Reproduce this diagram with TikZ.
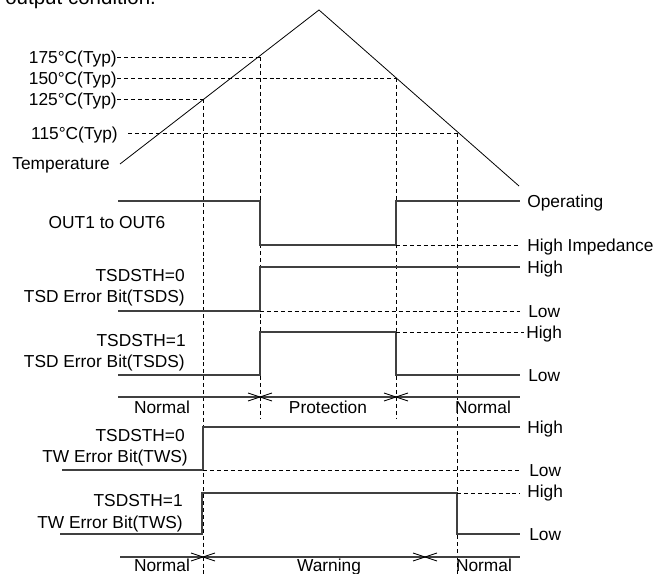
\documentclass[tikz,border=0pt]{standalone}
\usepackage{fontspec}
\setmainfont{Liberation Sans}
\begin{document}
\begin{tikzpicture}[x=0.75pt,y=-0.75pt,
  lbl/.style={font=\fontsize{13}{15}\selectfont, inner sep=0pt, text height=9.3pt, text depth=0pt},
  wave/.style={draw=black!75, line width=0.8pt},
  guide/.style={draw=black, line width=0.6pt, dash pattern=on 3pt off 2.2pt},
  temp/.style={draw=black, line width=0.6pt},
  xmark/.style={draw=black, line width=0.6pt}]
\useasboundingbox (0,0) rectangle (654,574);
\fill[white] (0,0) rectangle (654,574);
% partial heading
\node[anchor=base west, inner sep=0pt, font=\fontsize{15.4}{18}\selectfont] (head) at (5,4.5) {output condition.};
% temperature ramp
\draw[temp] (120,164) -- (319,10) -- (519,186);
% temperature labels
\node[lbl, anchor=east] (t175) at (117,57) {175°C(Typ)};
\node[lbl, anchor=east] (t150) at (117,78) {150°C(Typ)};
\node[lbl, anchor=east] (t125) at (117,99) {125°C(Typ)};
\node[lbl, anchor=east] (t115) at (118,133) {115°C(Typ)};
\node[lbl, anchor=east] (temp) at (110,163) {Temperature};
% horizontal threshold guides
\draw[guide] (t175.east) -- (260,57);
\draw[guide] (t150.east) -- (396,78);
\draw[guide] (t125.east) -- (203,99);
\draw[guide] (128,133) -- (457,133);
% vertical guides
\draw[guide] (203,99) -- (203,574);
\draw[guide] (260,57) -- (260,418);
\draw[guide] (396,78) -- (396,418);
\draw[guide] (457,133) -- (457,574);
% OUT1 to OUT6
\node[lbl] (out) at (107,222.5) {OUT1 to OUT6};
\draw[wave] (118,201) -- (260,201) -- (260,245) -- (396,245) -- (396,201) -- (520,201);
\draw[guide] (396,245) -- (520,245);
\node[lbl, anchor=west] (op) at (527,201) {Operating};
\node[lbl, anchor=west] (hiz) at (527,245) {High Impedance};
% TSDSTH=0 TSD
\node[lbl, anchor=east] (s0a) at (185,275) {TSDSTH=0};
\node[lbl, anchor=east] (s0b) at (185,296) {TSD Error Bit(TSDS)};
\draw[wave] (118,311) -- (260,311) -- (260,267) -- (520,267);
\draw[guide] (260,311) -- (520,311);
\node[lbl, anchor=west] (s0h) at (527,267) {High};
\node[lbl, anchor=west] (s0l) at (528,311) {Low};
% TSDSTH=1 TSD
\node[lbl, anchor=east] (s1a) at (186,340) {TSDSTH=1};
\node[lbl, anchor=east] (s1b) at (185,361) {TSD Error Bit(TSDS)};
\draw[wave] (118,375) -- (260,375) -- (260,332) -- (396,332) -- (396,375) -- (520,375);
\draw[guide] (396,332) -- (524,332);
\node[lbl, anchor=west] (s1h) at (526,332) {High};
\node[lbl, anchor=west] (s1l) at (528,375) {Low};
% Normal / Protection
\draw[wave] (118,397) -- (520,397);
\draw[xmark] (248,393) -- (272,401) (248,401) -- (272,393);
\draw[xmark] (384,393) -- (408,401) (384,401) -- (408,393);
\node[lbl] (n1) at (162,407.5) {Normal};
\node[lbl] (prot) at (328,407.5) {Protection};
\node[lbl] (n2) at (483,407.5) {Normal};
% TSDSTH=0 TW
\node[lbl, anchor=east] (w0a) at (185,435) {TSDSTH=0};
\node[lbl, anchor=east] (w0b) at (188,456.5) {TW Error Bit(TWS)};
\draw[wave] (62,470) -- (203,470) -- (203,427) -- (520,427);
\draw[guide] (203,470) -- (520,470);
\node[lbl, anchor=west] (w0h) at (527,427) {High};
\node[lbl, anchor=west] (w0l) at (529,470) {Low};
% TSDSTH=1 TW
\node[lbl, anchor=east] (w1a) at (183,500) {TSDSTH=1};
\node[lbl, anchor=east] (w1b) at (183,522.5) {TW Error Bit(TWS)};
\draw[wave] (60,534) -- (202,534) -- (202,493) -- (457,493) -- (457,534) -- (520,534);
\draw[guide] (457,493) -- (520,493);
\node[lbl, anchor=west] (w1h) at (527,491) {High};
\node[lbl, anchor=west] (w1l) at (529,534) {Low};
% Normal / Warning
\draw[wave] (120,557) -- (520,557);
\draw[xmark] (191,553) -- (215,561) (191,561) -- (215,553);
\draw[xmark] (413,553) -- (437,561) (413,561) -- (437,553);
\node[lbl] (n3) at (162,565.5) {Normal};
\node[lbl] (warn) at (329,565.5) {Warning};
\node[lbl] (n4) at (484,565.5) {Normal};
\end{tikzpicture}
\end{document}
